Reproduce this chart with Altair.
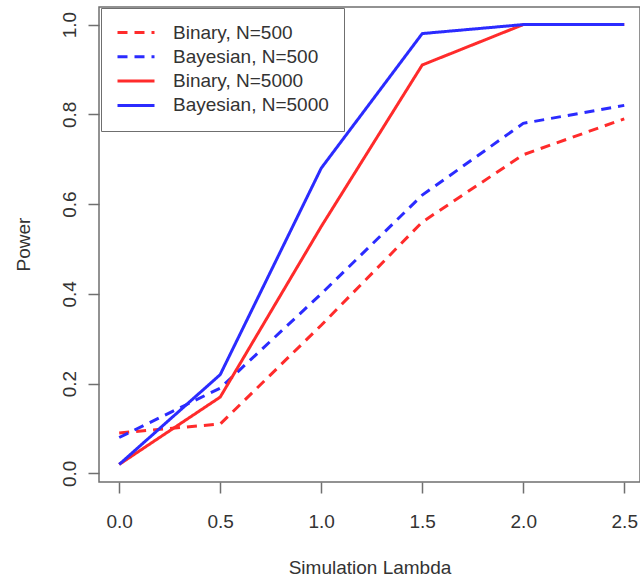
import altair as alt
import pandas as pd

lambdas = [0.0, 0.5, 1.0, 1.5, 2.0, 2.5]
series_names = ["Binary, N=500", "Bayesian, N=500", "Binary, N=5000", "Bayesian, N=5000"]
binary_500 = [0.09, 0.11, 0.33, 0.56, 0.71, 0.79]
bayes_500 = [0.08, 0.19, 0.40, 0.62, 0.78, 0.82]
binary_5000 = [0.02, 0.17, 0.55, 0.91, 1.0, 1.0]
bayes_5000 = [0.02, 0.22, 0.68, 0.98, 1.0, 1.0]
x_ticks = [0.0, 0.5, 1.0, 1.5, 2.0, 2.5]
y_ticks = [0.0, 0.2, 0.4, 0.6, 0.8, 1.0]

colors = ["#ff2b2b", "#2b2bff", "#ff2b2b", "#2b2bff"]
dashes = [[10, 7], [10, 7], [1, 0], [1, 0]]

rows = []
for name, vals in zip(series_names, [binary_500, bayes_500, binary_5000, bayes_5000]):
    for lam, v in zip(lambdas, vals):
        rows.append({"series": name, "lambda": lam, "power": v})
df = pd.DataFrame(rows)

legend = alt.Legend(
    title=None, orient="none", legendX=2, legendY=1, direction="vertical",
    fillColor="white", strokeColor="#6f6f6f", padding=15,
    symbolType="stroke", symbolSize=1369, symbolStrokeWidth=3,
    labelFontSize=19, labelColor="#333", labelOffset=17, rowPadding=4.3,
    labelLimit=300, clipHeight=19,
)

chart = alt.Chart(df).mark_line(strokeWidth=3, clip=True).encode(
    x=alt.X("lambda:Q",
            scale=alt.Scale(domain=[-0.1, 2.578], nice=False, zero=False),
            axis=alt.Axis(values=x_ticks, format=".1f", title="Simulation Lambda",
                          labelFlush=False, labelPadding=19, titleY=85,
                          titleBaseline="middle")),
    y=alt.Y("power:Q",
            scale=alt.Scale(domain=[-0.0192, 1.0392], nice=False, zero=False),
            axis=alt.Axis(values=y_ticks, format=".1f", title="Power",
                          labelAngle=270, labelAlign="center", labelBaseline="alphabetic",
                          labelPadding=13, labelFlush=False,
                          titleX=-76, titleY=237, titleAngle=270, titleAlign="center",
                          titleBaseline="middle")),
    color=alt.Color("series:N", scale=alt.Scale(domain=series_names, range=colors),
                    legend=legend, sort=series_names),
    strokeDash=alt.StrokeDash("series:N", scale=alt.Scale(domain=series_names, range=dashes),
                              legend=legend, sort=series_names),
    detail="series:N",
).properties(
    width=541, height=475,
    autosize=alt.AutoSizeParams(type="none"),
    padding={"left": 99, "top": 7, "right": 0, "bottom": 98},
).configure(
    font="Liberation Sans",
).configure_view(
    stroke="#6f6f6f", strokeWidth=1.5,
).configure_axis(
    grid=False, domain=False, tickSize=11, tickColor="#6f6f6f", tickWidth=1.5,
    labelFontSize=19, labelColor="#333", titleFontSize=19, titleColor="#333",
    titleFontWeight="normal",
)

chart.save("out.html", embed_options={"renderer": "svg", "actions": False})
